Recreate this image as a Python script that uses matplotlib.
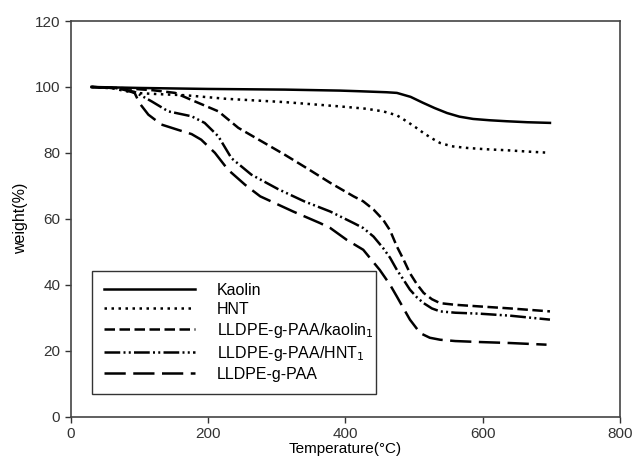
import matplotlib
matplotlib.use("Agg")
import matplotlib.pyplot as plt

plt.rcParams['font.family'] = ['Liberation Sans', 'DejaVu Sans']

# readings (temperature in C, weight in %)
t_kaolin = [30, 100, 200, 312, 392, 421, 460, 475, 495, 513, 530, 548, 566, 586, 610, 635, 665, 698]
w_kaolin = [100, 99.7, 99.4, 99.2, 98.9, 98.7, 98.4, 98.2, 97.0, 95.2, 93.6, 92.1, 91.0, 90.3, 89.9, 89.6, 89.3, 89.1]

t_hnt = [30, 60, 93, 130, 166, 227, 312, 392, 430, 455, 475, 489, 502, 514, 526, 538, 555, 577, 605, 635, 665, 691]
w_hnt = [100, 99.6, 98.2, 97.8, 97.5, 96.4, 95.4, 94.1, 93.4, 92.6, 91.4, 89.6, 87.8, 86.0, 84.4, 83.0, 82.0, 81.5, 81.1, 80.8, 80.4, 80.1]

t_kao1 = [30, 80, 120, 152, 181, 215, 244, 278, 312, 345, 378, 412, 426, 441, 455, 465,
          475, 485, 494, 504, 514, 526, 538, 560, 596, 640, 698]
w_kao1 = [100, 99.6, 99.0, 98.2, 95.6, 92.6, 87.6, 83.5, 79.4, 75.2, 70.9, 66.8, 65.3, 62.8, 59.7, 56.5,
          51.6, 47.5, 43.5, 40.2, 37.5, 35.6, 34.4, 33.9, 33.4, 32.8, 31.9]

t_hnt1 = [30, 70, 93, 118, 142, 176, 195, 215, 234, 263, 302, 340, 378, 412, 426, 441, 455, 465,
          475, 485, 494, 504, 514, 526, 538, 560, 596, 640, 698]
w_hnt1 = [100, 99.6, 98.5, 95.6, 92.6, 91.1, 89.1, 85.0, 78.4, 73.4, 69.0, 65.3, 62.2, 58.7, 57.2, 54.6, 51.1, 48.2,
          44.5, 41.4, 38.5, 36.2, 34.4, 32.8, 31.9, 31.5, 31.2, 30.6, 29.4]

t_paa = [30, 70, 93, 100, 113, 132, 156, 176, 190, 210, 229, 254, 276, 324, 363, 378, 402, 426, 450, 465,
         475, 485, 494, 509, 523, 538, 560, 596, 640, 693]
w_paa = [100, 99.6, 98.2, 95.1, 91.6, 88.6, 87.0, 85.7, 84.0, 80.0, 74.9, 70.3, 66.8, 62.2, 58.7, 57.2, 53.6, 50.6, 44.5, 40.0,
         36.4, 32.7, 29.4, 25.3, 23.9, 23.3, 22.9, 22.6, 22.3, 21.8]

fig = plt.figure(figsize=(6.32, 4.68), dpi=100)
ax = fig.add_axes([0.112, 0.110, 0.869, 0.845])

lw = 1.8
ax.plot(t_kaolin, w_kaolin, color='black', lw=lw, linestyle='-', label='Kaolin')
ax.plot(t_hnt, w_hnt, color='black', lw=lw, linestyle=(0, (1, 1.8)), label='HNT')
ax.plot(t_kao1, w_kao1, color='black', lw=lw, linestyle=(0, (4.2, 1.8)),
        label='LLDPE-g-PAA/kaolin$_1$')
ax.plot(t_hnt1, w_hnt1, color='black', lw=lw,
        linestyle=(0, (6.3, 1.3, 0.8, 1.3, 0.8, 1.3)), label='LLDPE-g-PAA/HNT$_1$')
ax.plot(t_paa, w_paa, color='black', lw=lw, linestyle=(0, (8.5, 3)),
        label='LLDPE-g-PAA')

ax.set_xlim(0, 800)
ax.set_ylim(0, 120)
ax.set_xticks([0, 200, 400, 600, 800])
ax.set_yticks([0, 20, 40, 60, 80, 100, 120])
ax.tick_params(direction='out', length=4, width=1, labelsize=11, colors='#333333')
for s in ax.spines.values():
    s.set_color('#444444')
    s.set_linewidth(1.2)

ax.set_xlabel('Temperature(°C)', fontsize=11, labelpad=1)
ax.set_ylabel('weight(%)', fontsize=11.5, labelpad=5)

leg = ax.legend(loc='lower left', bbox_to_anchor=(0.038, 0.057, 0.518, 0.31),
                mode='expand', fontsize=11.5, handlelength=5.75, handletextpad=1.36,
                fancybox=False, edgecolor='#333333', framealpha=1,
                borderpad=0.75, labelspacing=0.25, borderaxespad=0)
leg.get_frame().set_linewidth(1.0)

fig.savefig('out.png', dpi=100)
